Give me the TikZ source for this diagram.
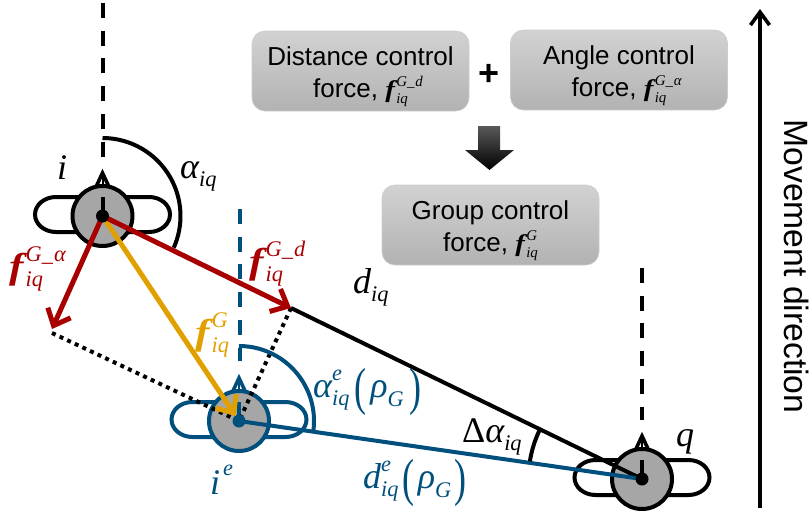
\documentclass[tikz,border=0pt]{standalone}
\usepackage{fontspec}
\usepackage{graphicx}
\setmainfont{Liberation Sans}
\newfontfamily\tm{Liberation Serif}
\usetikzlibrary{arrows.meta}
\definecolor{myblue}{HTML}{004F7C}
\definecolor{myred}{HTML}{A80000}
\definecolor{myorange}{HTML}{E0A000}
\definecolor{bodygray}{HTML}{A6A6A6}
\definecolor{boxtop}{HTML}{D2D2D2}
\definecolor{boxbot}{HTML}{B2B2B2}
\definecolor{boxedge}{HTML}{CCCCCC}
\newcommand\fs[1]{\fontsize{#1}{#1}\selectfont}
\newcommand\supsub[2]{\rlap{\raisebox{.47em}{\scalebox{.62}{#1}}}\raisebox{-.24em}{\scalebox{.62}{#2}}}
\newcommand\fvec{{\bfseries\scalebox{1.2}[1]{f}\kern.06em}}
\newcommand\bigp[1]{\raisebox{-.2em}{\scalebox{1}[1.45]{\normalfont\tm #1}}}
\newcommand\drone[4]{%
  \draw[#3,line width=4pt,fill=white] (#1-46.5,#2+19) arc [start angle=90,end angle=270,x radius=21,y radius=17.5] -- (#1+46.5,#2-16) arc [start angle=-90,end angle=90,x radius=21,y radius=17.5] -- cycle;
  \draw[#3,line width=3.6pt,fill=white,line join=miter] (#1,#2+43) -- (#1-7,#2+28) -- (#1+7,#2+28) -- cycle;
  \draw[#3,line width=2pt] (#1,#2+43) -- (#1,#2+28);
  \node[circle,draw=#3,fill=bodygray,line width=4pt,minimum size=60pt,inner sep=0pt] (#4) at (#1,#2) {};
  \draw[#3,line width=4pt] (#4.center) -- ++(0,19);
}
\tikzset{
  every node/.style={inner sep=0pt},
  mathlab/.style={anchor=base west,font=\tm\itshape\fs{36}},
  forcebox/.style={rounded corners=13pt,top color=boxtop,bottom color=boxbot,draw=boxedge,line width=.6pt,
    minimum width=217pt,minimum height=80pt,align=center,font=\fontsize{26}{32}\selectfont},
  dashline/.style={line width=4pt,dash pattern=on 15pt off 12.7pt},
  dotline/.style={line width=4pt,dash pattern=on 4pt off 4.4pt},
  force/.style={line width=5pt,-{Straight Barb[length=14pt,width=25pt,line width=5pt]}},
}
\begin{document}
\begin{tikzpicture}[x=1pt,y=1pt]
\useasboundingbox (0,0) rectangle (812,-512);
% boxes
\node[forcebox] (dbox) at (360.5,-71) {\rule{0pt}{30pt}Distance control\\force, {\tm\itshape\fs{24}\fvec\supsub{G\_\kern.05em d}{iq}}\hspace{1.7em}};
\node[forcebox] (abox) at (619,-70) {\rule{0pt}{30pt}Angle control\\force, {\tm\itshape\fs{24}\fvec\supsub{G\_\kern.05em α}{iq}}\hspace{1.7em}};
\node[forcebox] (gbox) at (490.5,-225) {\rule{0pt}{30pt}Group control\\force, {\tm\itshape\fs{24}\fvec\supsub{G}{iq}}};
\node[font=\bfseries\fs{36}] (plus) at (489,-75) {+};
\shade[top color=black!65,bottom color=black] (478,-126) -- (500,-126) -- (500,-150) -- (514,-150) -- (489.5,-170) -- (465,-150) -- (478,-150) -- cycle;
% movement direction
\coordinate (mvA) at (760,-508);
\coordinate (mvB) at (760,-9);
\draw[line width=4.4pt,-{Straight Barb[length=13pt,width=19pt,line width=3.6pt]}] (mvA) -- (mvB);
\node[rotate=-90,font=\fs{33.7}] (mvlab) at (797,-266.5) {Movement direction};
% heading lines
\coordinate (iT) at (103,-3);
\coordinate (iB) at (103,-157);
\coordinate (eT) at (239.5,-209);
\coordinate (eB) at (239.5,-361);
\coordinate (qT) at (642,-268);
\coordinate (qB) at (642,-420);
\draw[dashline] (iT) -- (iB);
\draw[dashline,myblue] (eT) -- (eB);
\draw[dashline] (qT) -- (qB);
% drones
\drone{102.5}{-216}{black}{i}
\drone{239}{-421}{myblue}{e}
\drone{642}{-479}{black}{q}
\coordinate (fd) at (291,-308);
\coordinate (fa) at (52,-329);
\coordinate (fb) at (52,-333);
% lines
\draw[dotline] (fb) -- (e.center);
\draw[dotline] (fd) -- (e.center);
\draw[line width=4pt] (fd) -- (q.center);
\draw[line width=4pt,myblue] (e.center) -- (q.center);
% arcs
\draw[line width=4pt] ([shift={(90:78)}]i.center) arc (90:-24:78);
\draw[line width=4pt,myblue] ([shift={(90:75)}]e.center) arc (90:-7:75);
\draw[line width=4pt] ([shift={(154:113.5)}]q.center) arc (154:171:113.5);
% forces
\fill[myblue] (e.center) circle (6.5pt);
\draw[force,myorange,shorten >=6pt] (i.center) -- (e.center);
\draw[force,myred] (i.center) -- (fd);
\draw[force,myred] (i.center) -- (fa);
\fill (i.center) circle (6.5pt);
\fill (q.center) circle (6.5pt);
% labels
\node[mathlab] (li) at (57,-179) {i};
\node[mathlab] (lai) at (180,-178) {α\supsub{}{iq}};
\node[mathlab,myred] (lfa) at (9,-278) {\fvec\supsub{G\_\kern.05em α}{iq}};
\node[mathlab,myred] (lfd) at (249,-273) {\fvec\supsub{G\_\kern.05em d}{iq}};
\node[mathlab,myorange] (lfg) at (195,-344) {\fvec\supsub{G}{iq}};
\node[mathlab] (ldq) at (353,-293) {d\supsub{}{iq}};
\node[mathlab,myblue] (lae) at (313,-397) {α\supsub{e}{iq}\kern.15em\bigp{(}\kern.1em ρ\raisebox{-.25em}{\scalebox{.62}{G}}\kern.15em\bigp{)}};
\node[mathlab,myblue] (lde) at (363,-488) {d\supsub{e}{iq}\kern.1em\bigp{(}\kern.1em ρ\raisebox{-.25em}{\scalebox{.62}{G}}\kern.1em\bigp{)}};
\node[mathlab,myblue] (lie) at (210,-494) {i\kern.08em\raisebox{.52em}{\scalebox{.62}{e}}};
\node[mathlab] (lda) at (462,-442) {{\upshape Δ}α\supsub{}{iq}};
\node[mathlab] (lq) at (676,-446) {q};
\end{tikzpicture}
\end{document}
